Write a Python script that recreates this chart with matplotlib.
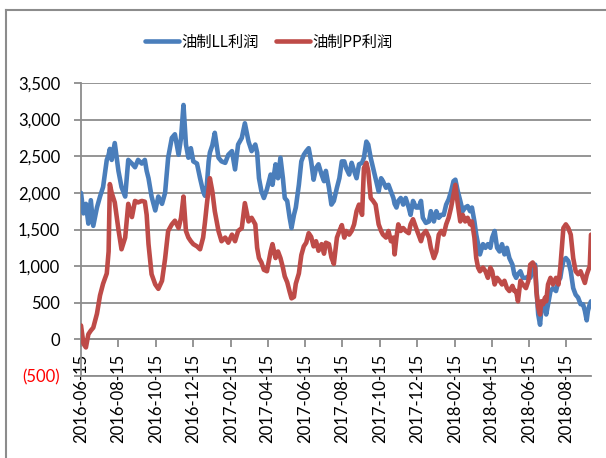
import matplotlib
matplotlib.use('Agg')
import matplotlib.pyplot as plt
import matplotlib.dates as mdates
from matplotlib.lines import Line2D
import pandas as pd

plt.rcParams['font.family'] = ['Lato', 'Noto Sans CJK SC', 'DejaVu Sans']

# ---- data -------------------------------------------------------------
start_date = '2016-06-15'
day_offsets = [
    0, 4, 8, 12, 16, 20, 26, 31, 36, 42, 45, 47, 50, 55, 61, 66, 72, 77, 83, 88,
    93, 99, 104, 107, 110, 115, 121, 126, 132, 137, 142, 148, 153, 159, 163, 167,
    171, 175, 179, 183, 189, 194, 199, 202, 205, 208, 210, 214, 218, 224, 229,
    235, 240, 246, 251, 256, 262, 267, 273, 278, 284, 287, 290, 294, 298, 303,
    309, 312, 317, 321, 325, 329, 332, 336, 340, 343, 347, 350, 355, 359, 363,
    367, 371, 375, 379, 383, 387, 392, 396, 399, 404, 408, 412, 417, 421, 425,
    429, 432, 437, 441, 445, 449, 453, 458, 461, 465, 468, 472, 476, 480, 485,
    489, 492, 497, 501, 505, 509, 511, 514, 517, 521, 525, 529, 534, 537, 541,
    546, 550, 554, 557, 562, 567, 570, 575, 579, 583, 587, 591, 595, 599, 603,
    607, 610, 614, 618, 622, 626, 630, 634, 637, 641, 644, 647, 650, 655, 659,
    663, 667, 670, 674, 678, 682, 686, 690, 694, 698, 703, 706, 709, 712, 716,
    720, 725, 729, 732, 736, 740, 742, 745, 748, 750, 753, 756, 758, 761, 765,
    769, 774, 778, 781, 783, 786, 790, 794, 798, 802, 806, 810, 814, 818, 821,
    824, 826, 829, 831,
]
ll_profit = [
    2000, 1720, 1850, 1580, 1900, 1550, 1800, 1950, 2080, 2450, 2520, 2600, 2450,
    2680, 2300, 2080, 1950, 2450, 2400, 2350, 2450, 2400, 2450, 2300, 2200, 1950,
    1760, 1950, 1850, 2000, 2480, 2750, 2800, 2520, 2750, 3200, 2660, 2480, 2610,
    2430, 2400, 2200, 2020, 1960, 2100, 2430, 2550, 2650, 2820, 2480, 2430, 2410,
    2520, 2570, 2320, 2660, 2750, 2950, 2700, 2570, 2660, 2550, 2200, 2020, 1930,
    2050, 2250, 2110, 2390, 2200, 2480, 2200, 1930, 1890, 1660, 1520, 1700, 1800,
    2110, 2430, 2520, 2570, 2610, 2430, 2180, 2340, 2390, 2250, 2160, 2300, 2070,
    1840, 1890, 2070, 2200, 2430, 2430, 2340, 2250, 2410, 2300, 2200, 2390, 2410,
    2480, 2700, 2660, 2480, 2340, 2200, 2020, 2200, 2160, 2070, 2110, 2020, 1930,
    1850, 1800, 1890, 1930, 1840, 1930, 1800, 1700, 1890, 1800, 1800, 1890, 1660,
    1590, 1610, 1750, 1610, 1750, 1660, 1700, 1700, 1840, 1910, 2020, 2160, 2180,
    2020, 1890, 1750, 1800, 1820, 1750, 1800, 1610, 1430, 1300, 1160, 1300, 1250,
    1300, 1250, 1390, 1480, 1250, 1200, 1300, 1160, 1250, 1110, 1020, 890, 840,
    890, 930, 840, 840, 860, 840, 930, 1020, 700, 340, 200, 390, 520, 430, 340,
    480, 660, 700, 660, 800, 840, 950, 1070, 1110, 1070, 930, 700, 610, 570, 480,
    480, 390, 260, 390, 480, 520,
]
pp_profit = [
    190, -60, -110, 70, 120, 160, 350, 600, 760, 900, 1200, 2120, 2000, 1870,
    1500, 1230, 1390, 1850, 1670, 1890, 1870, 1890, 1880, 1700, 1300, 890, 750,
    690, 800, 1100, 1480, 1570, 1620, 1520, 1660, 1950, 1480, 1390, 1340, 1300,
    1270, 1230, 1390, 1600, 1840, 2050, 2200, 2020, 1750, 1480, 1340, 1390, 1320,
    1430, 1340, 1480, 1520, 1860, 1610, 1660, 1570, 1250, 1110, 1050, 950, 930,
    1200, 1300, 1110, 1200, 1110, 980, 860, 780, 650, 560, 580, 760, 900, 1150,
    1270, 1320, 1450, 1400, 1270, 1340, 1210, 1300, 1170, 1320, 1300, 1120, 1030,
    1390, 1480, 1560, 1390, 1480, 1430, 1480, 1570, 1750, 1840, 1700, 2340, 2410,
    2300, 1930, 1890, 1840, 1570, 1480, 1430, 1390, 1480, 1340, 1390, 1160, 1390,
    1570, 1480, 1520, 1480, 1450, 1570, 1640, 1520, 1430, 1340, 1430, 1480, 1390,
    1250, 1110, 1200, 1430, 1480, 1430, 1570, 1660, 1800, 1980, 2110, 1840, 1610,
    1700, 1610, 1660, 1570, 1610, 1390, 1110, 980, 930, 980, 930, 840, 980, 930,
    750, 840, 800, 750, 800, 700, 660, 730, 660, 660, 520, 800, 750, 700, 800,
    1020, 1050, 980, 660, 430, 340, 520, 480, 570, 520, 750, 840, 750, 840, 750,
    980, 1200, 1520, 1570, 1520, 1430, 1110, 930, 890, 930, 840, 770, 880, 930,
    1000, 1430,
]
series_names = ['油制LL利润', '油制PP利润']
tick_labels = [
    '2016-06-15', '2016-08-15', '2016-10-15', '2016-12-15', '2017-02-15',
    '2017-04-15', '2017-06-15', '2017-08-15', '2017-10-15', '2017-12-15',
    '2018-02-15', '2018-04-15', '2018-06-15', '2018-08-15',
]
y_ticks = [-500, 0, 500, 1000, 1500, 2000, 2500, 3000, 3500]

# ---- figure -----------------------------------------------------------
dates = pd.Timestamp(start_date) + pd.to_timedelta(day_offsets, unit='D')
grid_c = '#8c8c8c'
blue = '#4a7ebb'
red = '#be4b48'

W, H = 606, 458
fig = plt.figure(figsize=(W / 100, H / 100), dpi=100)
ax = fig.add_axes([81 / W, 1 - 376 / H, (591 - 81) / W, (376 - 83) / H])

ax.plot(dates, ll_profit, color=blue, lw=3.3, solid_joinstyle='round',
        solid_capstyle='round', label=series_names[0], zorder=3)
ax.plot(dates, pp_profit, color=red, lw=3.3, solid_joinstyle='round',
        solid_capstyle='round', label=series_names[1], zorder=3)

ymin, ymax = y_ticks[0], y_ticks[-1]
ax.set_ylim(ymin, ymax)
ax.set_xlim(dates[0], dates[-1])

ax.tick_params(axis='y', length=5, width=1.3, color=grid_c, pad=10,
               labelsize=12, labelcolor='black')
ax.set_yticks(y_ticks)
ax.set_yticklabels([f'({abs(v):,})' if v < 0 else f'{v:,}' for v in y_ticks])
for v, lab in zip(y_ticks, ax.get_yticklabels()):
    lab.set_color('#ff0000' if v < 0 else 'black')
ax.yaxis.grid(True, color=grid_c, lw=1.3)
ax.set_axisbelow(True)

for s in ['top', 'right']:
    ax.spines[s].set_visible(False)
for s in ['left', 'bottom']:
    ax.spines[s].set_color(grid_c)
    ax.spines[s].set_linewidth(1.3)
ax.tick_params(axis='x', bottom=False, labelbottom=False)

# category axis crossing at zero, labels hanging below it
zero_frac = (0 - ymin) / (ymax - ymin)
sec = ax.secondary_xaxis(zero_frac)
tick_nums = mdates.date2num(pd.to_datetime(tick_labels))
sec.set_xticks(tick_nums)
sec.set_xticklabels(tick_labels)
sec.tick_params(axis='x', direction='out', length=6, width=1.3, color=grid_c,
                pad=4, labelsize=12, labelrotation=90, labelcolor='black')
sec.spines['bottom'].set_color(grid_c)
sec.spines['bottom'].set_linewidth(1.3)

fig.legend(loc='center', bbox_to_anchor=(269 / W, 1 - 42 / H), ncol=2,
           frameon=False, prop={'family': ['Noto Sans CJK SC'], 'size': 11},
           handlelength=2.2, handletextpad=0.2, columnspacing=1.1)

# outer chart border
bx, by = 6 / W, 1 - 10 / H
fig.add_artist(Line2D([bx, bx], [0, by], transform=fig.transFigure,
                      color=grid_c, lw=1.5))
fig.add_artist(Line2D([bx, 1], [by, by], transform=fig.transFigure,
                      color=grid_c, lw=1.5))

fig.savefig('out.png', dpi=100)
